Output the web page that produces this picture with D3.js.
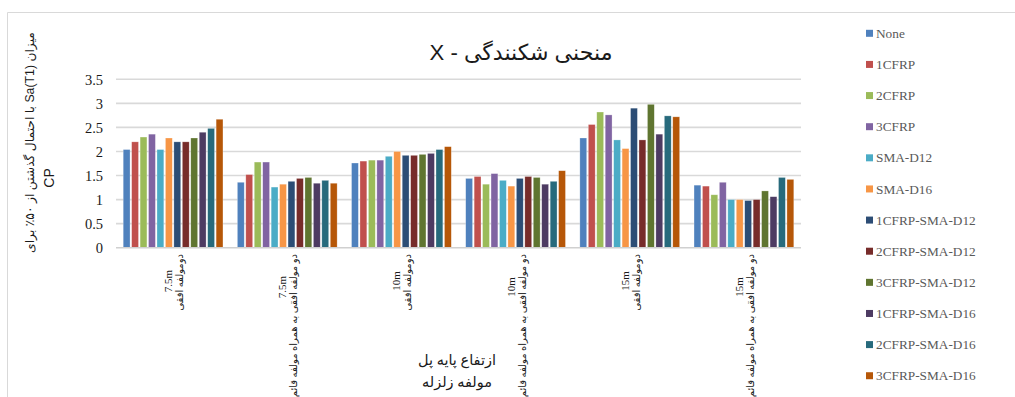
<!DOCTYPE html>
<html>
<head>
<meta charset="utf-8">
<script src="https://cdn.jsdelivr.net/npm/d3@7/dist/d3.min.js"></script>
<style>
  html, body { margin: 0; padding: 0; background: #fff; }
  svg { display: block; }
</style>
</head>
<body>
<svg id="chart" width="1015" height="397"></svg>
<script>
// Categories: pier height + earthquake component
const categoryHeights = ["7.5m", "7.5m", "10m", "10m", "15m", "15m"];
const categoryComponents = [
  "دومولفه افقی",
  "دو مولفه افقی به همراه مولفه قائم",
  "دومولفه افقی",
  "دو مولفه افقی به همراه مولفه قائم",
  "دومولفه افقی",
  "دو مولفه افقی به همراه مولفه قائم"
];

// Retrofit schemes (series)
const seriesNames = [
  "None", "1CFRP", "2CFRP", "3CFRP", "SMA-D12", "SMA-D16",
  "1CFRP-SMA-D12", "2CFRP-SMA-D12", "3CFRP-SMA-D12",
  "1CFRP-SMA-D16", "2CFRP-SMA-D16", "3CFRP-SMA-D16"
];
const seriesColors = [
  "#4F81BD", "#C0504D", "#9BBB59", "#8064A2", "#4BACC6", "#F79646",
  "#2C4D75", "#772C2A", "#5F7530", "#4D3B62", "#276A7C", "#B65708"
];

// Median Sa(T1) at CP, one array per series, in category order
const valNone        = [2.04, 1.36, 1.76, 1.44, 2.28, 1.30];
const val1CFRP       = [2.20, 1.52, 1.80, 1.48, 2.56, 1.28];
const val2CFRP       = [2.30, 1.78, 1.82, 1.32, 2.82, 1.10];
const val3CFRP       = [2.36, 1.78, 1.82, 1.54, 2.76, 1.36];
const valSMA12       = [2.04, 1.26, 1.90, 1.40, 2.24, 1.00];
const valSMA16       = [2.28, 1.32, 2.00, 1.28, 2.06, 1.00];
const val1CFRPSMA12  = [2.20, 1.38, 1.92, 1.44, 2.90, 0.98];
const val2CFRPSMA12  = [2.20, 1.44, 1.92, 1.48, 2.24, 1.00];
const val3CFRPSMA12  = [2.28, 1.46, 1.94, 1.46, 2.98, 1.18];
const val1CFRPSMA16  = [2.40, 1.34, 1.96, 1.32, 2.36, 1.06];
const val2CFRPSMA16  = [2.48, 1.40, 2.04, 1.38, 2.74, 1.46];
const val3CFRPSMA16  = [2.67, 1.34, 2.10, 1.60, 2.72, 1.42];

const seriesValues = [
  valNone, val1CFRP, val2CFRP, val3CFRP, valSMA12, valSMA16,
  val1CFRPSMA12, val2CFRPSMA12, val3CFRPSMA12,
  val1CFRPSMA16, val2CFRPSMA16, val3CFRPSMA16
];

const yTicks = [0, 0.5, 1, 1.5, 2, 2.5, 3, 3.5];
const yTickLabels = ["0", "0.5", "1", "1.5", "2", "2.5", "3", "3.5"];

const titleText = "منحنی شکنندگی - X";
const yTitleLines = ["میزان Sa(T1) با احتمال گذشتن از ۵۰٪ برای", "CP"];
const xTitleLines = ["ازتفاع پایه پل", "مولفه زلزله"];

const svg = d3.select("#chart");
const serif = "'Liberation Serif', 'Times New Roman', 'DejaVu Serif', 'DejaVu Sans', serif";
const sans = "'Liberation Sans', Arial, 'DejaVu Sans', sans-serif";

// shrink or grow a text element's font so it spans the given length
function fitText(sel, baseSize, targetLen) {
  sel.attr("font-size", baseSize);
  const len = sel.node().getComputedTextLength();
  if (len > 0) sel.attr("font-size", baseSize * targetLen / len);
}

// chart frame
svg.append("line").attr("x1", 7.5).attr("x2", 1015).attr("y1", 12.5).attr("y2", 12.5)
  .attr("stroke", "#D9D9D9").attr("stroke-width", 1);
svg.append("line").attr("x1", 7.5).attr("x2", 7.5).attr("y1", 12.5).attr("y2", 397)
  .attr("stroke", "#D9D9D9").attr("stroke-width", 1);

const plot = { left: 116, right: 801, top: 79.3, bottom: 247.7 };

const y = d3.scaleLinear().domain([0, 3.5]).range([plot.bottom, plot.top]);
const catKeys = d3.range(categoryHeights.length);
const x0 = d3.scaleBand().domain(catKeys).range([plot.left, plot.right]);
const groupPad = 7.2;
const x1 = d3.scaleBand().domain(d3.range(seriesNames.length))
  .range([groupPad, x0.bandwidth() - groupPad]).paddingInner(0.19);

// gridlines
svg.append("g")
  .selectAll("line").data(yTicks.filter(t => t > 0)).join("line")
  .attr("x1", plot.left).attr("x2", plot.right)
  .attr("y1", d => y(d)).attr("y2", d => y(d))
  .attr("stroke", "#D9D9D9").attr("stroke-width", 1.6);

// y axis labels
const yAxis = d3.axisLeft(y).tickValues(yTicks)
  .tickFormat((d, i) => yTickLabels[i]).tickSize(0).tickPadding(0);
const yg = svg.append("g").attr("transform", `translate(${plot.left - 13},0)`).call(yAxis);
yg.select(".domain").remove();
yg.selectAll("text").attr("font-family", serif).attr("font-size", 14.5).attr("fill", "#1a1a1a")
  .attr("dy", "0.34em");

// bars
const groups = svg.append("g").selectAll("g").data(catKeys).join("g")
  .attr("transform", c => `translate(${x0(c)},0)`);
groups.selectAll("rect")
  .data(c => seriesValues.map((vals, s) => ({ s, v: vals[c] })))
  .join("rect")
  .attr("x", d => x1(d.s))
  .attr("width", x1.bandwidth())
  .attr("y", d => y(d.v))
  .attr("height", d => y(0) - y(d.v))
  .attr("fill", d => seriesColors[d.s])
  .attr("stroke", "rgba(255,255,255,0.45)")
  .attr("stroke-width", 0.6);

// x axis line
svg.append("line").attr("x1", plot.left).attr("x2", plot.right)
  .attr("y1", plot.bottom).attr("y2", plot.bottom)
  .attr("stroke", "#D0D0D0").attr("stroke-width", 1.6);

// category labels (rotated)
const catLabels = svg.append("g").selectAll("g").data(catKeys).join("g")
  .attr("transform", c => `translate(${x0(c) + x0.bandwidth() / 2},0) rotate(-90)`);
catLabels.append("text")
  .attr("x", c => -(c % 2 === 0 ? 281 : 287))
  .attr("y", -1)
  .attr("text-anchor", "middle")
  .attr("font-family", serif).attr("font-size", 11).attr("fill", "#1a1a1a")
  .text(c => categoryHeights[c]);
catLabels.append("text")
  .attr("x", -254)
  .attr("y", 10)
  .attr("text-anchor", "end")
  .attr("font-family", serif).attr("font-size", 10).attr("fill", "#1a1a1a")
  .text(c => categoryComponents[c]);

// x axis title
svg.append("g").selectAll("text").data(xTitleLines).join("text")
  .attr("x", 457).attr("y", (d, i) => 365 + i * 22)
  .attr("text-anchor", "middle")
  .attr("direction", "rtl")
  .attr("font-family", serif).attr("font-size", 14.5).attr("fill", "#1a1a1a")
  .text(d => d);

// y axis title (rotated), right-to-left base direction
const yt = svg.append("g").attr("transform", "rotate(-90)");
const yt1 = yt.append("text").attr("x", -142.5).attr("y", 34).attr("text-anchor", "middle")
  .attr("direction", "rtl")
  .attr("font-family", sans).attr("fill", "#1a1a1a")
  .text(yTitleLines[0]);
fitText(yt1, 14, 221);
yt.append("text").attr("x", -178).attr("y", 54).attr("text-anchor", "middle")
  .attr("font-family", sans).attr("font-size", 14).attr("fill", "#1a1a1a")
  .text(yTitleLines[1]);

// title
const title = svg.append("text").attr("x", 521).attr("y", 60).attr("text-anchor", "middle")
  .attr("direction", "rtl")
  .attr("font-family", sans).attr("fill", "#1a1a1a")
  .text(titleText);
fitText(title, 21, 183);

// legend
const legend = svg.append("g").selectAll("g").data(seriesNames).join("g")
  .attr("transform", (d, i) => `translate(866,${33.3 + i * 31.13})`);
legend.append("rect").attr("x", 0).attr("y", -3.5).attr("width", 7).attr("height", 7)
  .attr("fill", (d, i) => seriesColors[i]);
legend.append("text").attr("x", 10).attr("y", 0).attr("dy", "0.35em")
  .attr("font-family", serif).attr("font-size", 13.3).attr("fill", "#595959")
  .text(d => d);
</script>
</body>
</html>
